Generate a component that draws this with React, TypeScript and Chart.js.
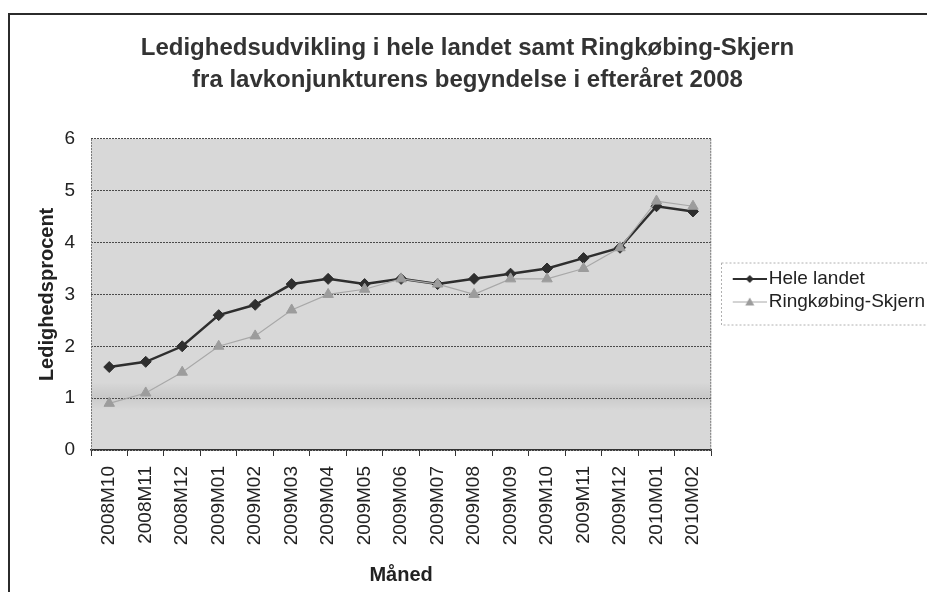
import React, { useEffect, useRef } from "react";
import { Chart, registerables } from "chart.js";

Chart.register(...registerables);

const CATEGORIES = [
  "2008M10", "2008M11", "2008M12", "2009M01", "2009M02", "2009M03", "2009M04", "2009M05", "2009M06",
  "2009M07", "2009M08", "2009M09", "2009M10", "2009M11", "2009M12", "2010M01", "2010M02",
];
const HELE_LANDET = [1.6, 1.7, 2.0, 2.6, 2.8, 3.2, 3.3, 3.2, 3.3, 3.2, 3.3, 3.4, 3.5, 3.7, 3.9, 4.7, 4.6];
const RINGKOBING_SKJERN = [0.9, 1.1, 1.5, 2.0, 2.2, 2.7, 3.0, 3.1, 3.3, 3.2, 3.0, 3.3, 3.3, 3.5, 3.9, 4.8, 4.7];
const SERIES_LABELS = ["Hele landet", "Ringkøbing-Skjern"];
const Y_TICKS = [0, 1, 2, 3, 4, 5, 6];
const TITLE_LINES = [
  "Ledighedsudvikling i hele landet samt Ringkøbing-Skjern",
  "fra lavkonjunkturens begyndelse i efteråret 2008",
];
const X_TITLE = "Måned";
const Y_TITLE = "Ledighedsprocent";

const FONT = "'Liberation Sans', Arial, Helvetica, sans-serif";
const DARK = "#2e2e2e";
const LIGHT_LINE = "#a8a8a8";
const LIGHT_MARK = "#9c9c9c";

function makeLegendImage(lineColor: string, lineWidth: number, shape: string, fill: string) {
  const c = document.createElement("canvas");
  c.width = 59;
  c.height = 14;
  const ctx = c.getContext("2d")!;
  ctx.strokeStyle = lineColor;
  ctx.lineWidth = lineWidth;
  ctx.beginPath();
  ctx.moveTo(25, 7);
  ctx.lineTo(59, 7);
  ctx.stroke();
  ctx.fillStyle = fill;
  ctx.beginPath();
  if (shape === "diamond") {
    ctx.moveTo(42, 3);
    ctx.lineTo(46, 7);
    ctx.lineTo(42, 11);
    ctx.lineTo(38, 7);
  } else {
    ctx.moveTo(42, 2.5);
    ctx.lineTo(46.5, 10.5);
    ctx.lineTo(37.5, 10.5);
  }
  ctx.closePath();
  ctx.fill();
  return c;
}

const decorPlugin = {
  id: "decor",
  beforeDraw(chart: any) {
    const { ctx, chartArea: a, width, height } = chart;
    ctx.save();
    ctx.fillStyle = "#ffffff";
    ctx.fillRect(0, 0, width, height);
    // outer frame (left + top)
    ctx.fillStyle = "#2b2b2b";
    ctx.fillRect(8, 13, 2, height - 13);
    ctx.fillRect(8, 13, width - 8, 2);
    // plot background
    ctx.fillStyle = "#d8d8d8";
    ctx.fillRect(a.left, a.top, a.width, a.height);
    // slightly darker band near the value 1
    const yb = chart.scales.y.getPixelForValue(1);
    const g = ctx.createLinearGradient(0, yb - 16, 0, yb + 12);
    g.addColorStop(0, "rgba(0,0,0,0)");
    g.addColorStop(0.5, "rgba(0,0,0,0.07)");
    g.addColorStop(1, "rgba(0,0,0,0)");
    ctx.fillStyle = g;
    ctx.fillRect(a.left, yb - 16, a.width, 28);
    ctx.restore();
  },
  beforeDatasetsDraw(chart: any) {
    const { ctx, chartArea: a } = chart;
    ctx.save();
    ctx.strokeStyle = "#7a7a7a";
    ctx.lineWidth = 1;
    ctx.setLineDash([2, 1]);
    ctx.beginPath();
    ctx.moveTo(a.left + 0.5, a.bottom);
    ctx.lineTo(a.left + 0.5, a.top);
    ctx.moveTo(a.right - 0.5, a.top);
    ctx.lineTo(a.right - 0.5, a.bottom);
    ctx.stroke();
    ctx.restore();
  },
  afterDraw(chart: any) {
    const lg = chart.legend;
    if (!lg || !lg.legendHitBoxes || !lg.legendHitBoxes.length) return;
    const hb = lg.legendHitBoxes;
    const top = hb[0].top - 7;
    const last = hb[hb.length - 1];
    const bottom = last.top + last.height + 13;
    const { ctx } = chart;
    ctx.save();
    ctx.strokeStyle = "#b0b0b0";
    ctx.lineWidth = 1;
    ctx.setLineDash([2, 2]);
    ctx.strokeRect(Math.round(lg.left) + 10.5, top + 0.5, chart.width, bottom - top);
    ctx.restore();
  },
};

export default function App() {
  const ref = useRef<HTMLCanvasElement>(null);

  useEffect(() => {
    const canvas = ref.current;
    if (!canvas) return;
    const legendImages = [
      makeLegendImage(DARK, 2, "diamond", DARK),
      makeLegendImage(LIGHT_LINE, 1, "triangle", LIGHT_MARK),
    ];

    const chart = new Chart(canvas, {
      type: "line",
      data: {
        labels: CATEGORIES,
        datasets: [
          {
            label: SERIES_LABELS[0],
            data: HELE_LANDET,
            order: 1,
            borderColor: DARK,
            backgroundColor: DARK,
            borderWidth: 2.5,
            pointStyle: "rectRot",
            pointRadius: 5.5,
            pointBackgroundColor: DARK,
            pointBorderColor: DARK,
            pointBorderWidth: 1,
            tension: 0,
          },
          {
            label: SERIES_LABELS[1],
            data: RINGKOBING_SKJERN,
            order: 0,
            borderColor: LIGHT_LINE,
            backgroundColor: LIGHT_MARK,
            borderWidth: 1.2,
            pointStyle: "triangle",
            pointRadius: 6,
            pointBackgroundColor: LIGHT_MARK,
            pointBorderColor: LIGHT_MARK,
            pointBorderWidth: 1,
            tension: 0,
          },
        ],
      },
      options: {
        animation: false,
        responsive: false,
        devicePixelRatio: 1,
        events: [],
        layout: { padding: { top: 0, left: 0, right: 0, bottom: 19 } },
        plugins: {
          title: {
            display: true,
            text: TITLE_LINES,
            color: "#333333",
            font: { family: FONT, size: 24, weight: "bold", lineHeight: 1.33 },
            padding: { top: 32, bottom: 43 },
          },
          legend: {
            display: true,
            position: "right",
            align: "center",
            labels: {
              usePointStyle: true,
              pointStyleWidth: 44,
              padding: 4,
              color: "#222222",
              font: { family: FONT, size: 19 },
              generateLabels: (ch: any) => {
                const items = Chart.defaults.plugins.legend.labels.generateLabels(ch);
                items.sort((p: any, q: any) => p.datasetIndex - q.datasetIndex);
                items.forEach((it: any) => {
                  it.pointStyle = legendImages[it.datasetIndex];
                });
                return items;
              },
            },
          },
          tooltip: { enabled: false },
        },
        scales: {
          x: {
            offset: true,
            grid: {
              offset: true,
              drawOnChartArea: false,
              drawTicks: true,
              tickLength: 6,
              color: "#333333",
            },
            border: { display: true, color: "#333333", width: 1.5 },
            ticks: {
              autoSkip: false,
              maxRotation: 90,
              minRotation: 90,
              padding: 10,
              color: "#222222",
              font: { family: FONT, size: 19 },
            },
            title: {
              display: true,
              text: X_TITLE,
              color: "#222222",
              font: { family: FONT, size: 20, weight: "bold", lineHeight: 0.6 },
              padding: 0,
            },
            afterFit: (s: any) => {
              s.height = 131;
            },
          },
          y: {
            min: 0,
            max: 6,
            afterBuildTicks: (s: any) => {
              s.ticks = Y_TICKS.map((v) => ({ value: v }));
            },
            ticks: {
              padding: 16,
              color: "#222222",
              font: { family: FONT, size: 19 },
            },
            grid: { drawTicks: false, color: "#4a4a4a", lineWidth: 1 },
            border: { display: false, dash: [2, 1] },
            title: {
              display: true,
              text: Y_TITLE,
              color: "#222222",
              font: { family: FONT, size: 20, weight: "bold", lineHeight: 1.2 },
              padding: { top: 35, bottom: 0 },
            },
            afterFit: (s: any) => {
              s.width = 91;
            },
          },
        },
      } as any,
      plugins: [decorPlugin],
    });

    return () => chart.destroy();
  }, []);

  return (
    <div style={{ margin: "-8px 0 -8px -8px", width: 935, height: 600, position: "relative" }}>
      <canvas ref={ref} width={935} height={600} style={{ display: "block", width: 935, height: 600 }} />
    </div>
  );
}
